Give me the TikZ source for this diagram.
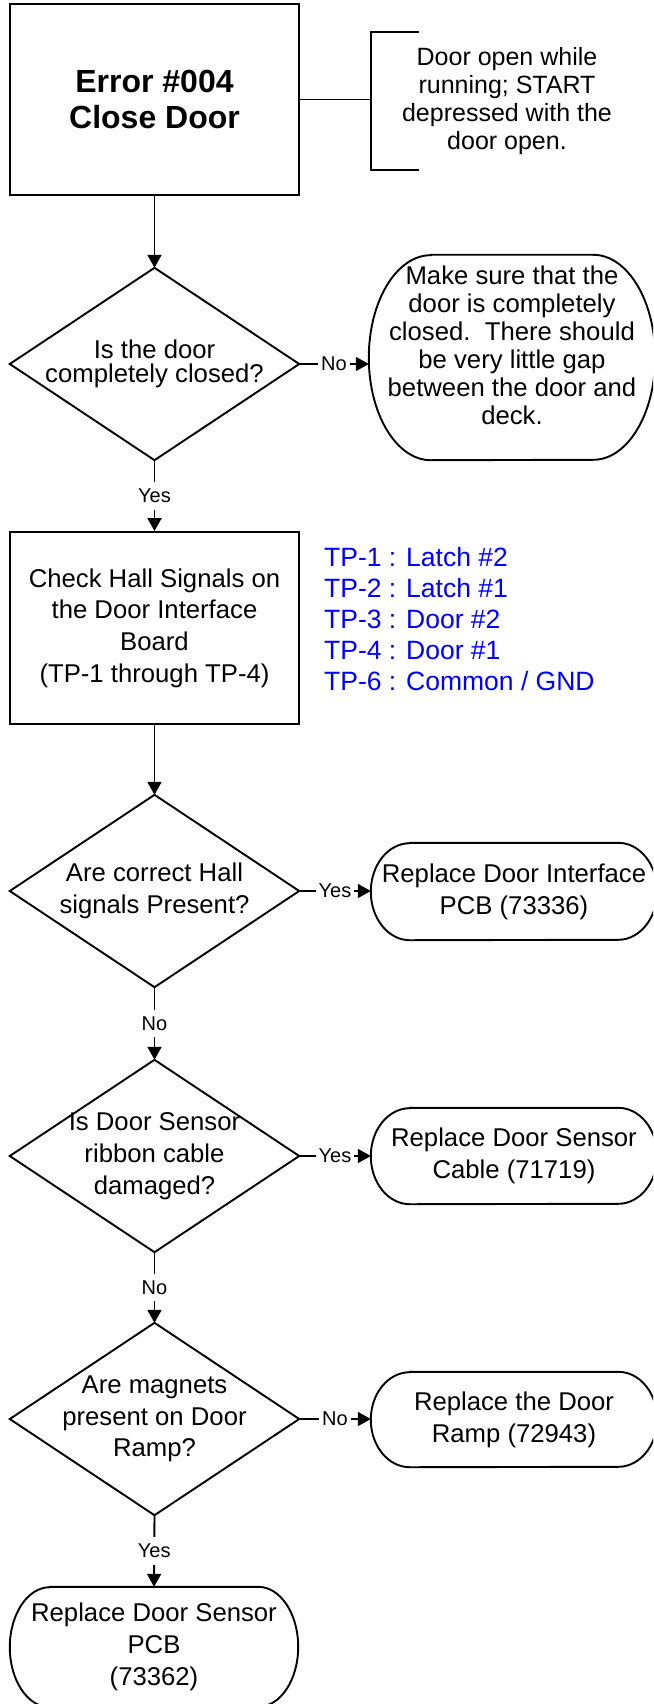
\documentclass[tikz,border=0pt]{standalone}
\usepackage{fontspec}
\setmainfont{Liberation Sans}
\usetikzlibrary{arrows.meta,calc}
\definecolor{tpblue}{RGB}{0,0,255}
\newcommand\fmain{\fontsize{25.7pt}{31.7pt}\selectfont}
\newcommand\ftitle{\fontsize{32pt}{36pt}\selectfont\bfseries}
\newcommand\fnote{\fontsize{25pt}{27.7pt}\selectfont}
\newcommand\fdone{\fontsize{25.7pt}{23.5pt}\selectfont}
\newcommand\fmake{\fontsize{25.7pt}{28pt}\selectfont}
\newcommand\ftp{\fontsize{26.5pt}{30.8pt}\selectfont}
\newcommand\flabel{\fontsize{20pt}{24pt}\selectfont}
\newcommand\termoutline[3]{%
  \draw[shapeline] ($(#1.north west)+(#2,0)$) -- ($(#1.north east)+(-#2,0)$)
    arc[start angle=90,end angle=-90,x radius=#2,y radius=#3]
    -- ($(#1.south west)+(#2,0)$)
    arc[start angle=270,end angle=90,x radius=#2,y radius=#3] -- cycle;}
\newcommand\diamondoutline[1]{%
  \draw[shapeline] (#1.north) -- (#1.east) -- (#1.south) -- (#1.west) -- cycle;}
\begin{document}
\begin{tikzpicture}[x=1pt,y=1pt,
  shapeline/.style={line width=1.9pt, line join=miter},
  conn/.style={line width=1.9pt},
  arr/.style={conn,-{Triangle[length=13pt,width=14pt]}},
  boxnode/.style={draw, line width=1.9pt, inner sep=0pt, align=center, font=\fmain},
  holder/.style={inner sep=0pt, align=center, font=\fmain},
  lbl/.style={fill=white, inner xsep=3pt, inner ysep=7pt, font=\flabel}]
\useasboundingbox (0,0) rectangle (653,-1704);
\fill[white] (0,0) rectangle (653,-1704);
\clip (0,0) rectangle (653,-1704);

% start box and note
\node[boxnode, minimum width=289pt, minimum height=191pt, font=\ftitle] (start) at (154.5,-99.5) {Error \#004\\Close Door};
\node[holder, minimum width=272pt, minimum height=138pt, font=\fnote] (note) at (507,-101) {Door open while\\running; START\\depressed with the\\door open.};
\draw[conn] ([xshift=48pt]note.north west) -- (note.north west) -- (note.south west) -- ([xshift=48pt]note.south west);
\draw[conn] (start.east) -- (start.east -| note.west);

% question 1
\node[holder, minimum width=289pt, minimum height=192pt, font=\fdone] (q1) at (154.5,-364) {Is the door\\completely closed?};
\diamondoutline{q1}
\node[holder, minimum width=286pt, minimum height=205pt] (fix1) at (512,-357.5) {};
\termoutline{fix1}{62}{102.5}
\node[holder, font=\fmake] (fix1text) at ([yshift=11.7pt]fix1.center) {Make sure that the\\door is completely\\closed.\ \ There should\\be very little gap\\between the door and\\deck.};

% check box
\node[boxnode, minimum width=289pt, minimum height=192pt] (check) at (154.5,-628) {Check Hall Signals on\\the Door Interface\\Board\\(TP-1 through TP-4)};
\node[anchor=north west, inner sep=0pt, align=left, text=tpblue, font=\ftp] (tp) at (324,-547.5) {TP-1 : Latch \#2\\TP-2 : Latch \#1\\TP-3 : Door \#2\\TP-4 : Door \#1\\TP-6 : Common / GND};

% question 2
\node[holder, minimum width=289pt, minimum height=192pt] (q2) at (154.5,-891) {Are correct Hall\\signals Present?};
\diamondoutline{q2}
\node[holder, minimum width=286pt, minimum height=97pt] (fix2) at (514,-891.5) {Replace Door Interface\\PCB (73336)};
\termoutline{fix2}{39}{48.5}

% question 3
\node[holder, minimum width=289pt, minimum height=192pt] (q3) at (154.5,-1156) {Is Door Sensor\\ribbon cable\\damaged?};
\diamondoutline{q3}
\node[holder, minimum width=286pt, minimum height=96pt] (fix3) at (514,-1156) {Replace Door Sensor\\Cable (71719)};
\termoutline{fix3}{39}{48}

% question 4
\node[holder, minimum width=289pt, minimum height=192pt] (q4) at (154.5,-1419) {Are magnets\\present on Door\\Ramp?};
\diamondoutline{q4}
\node[holder, minimum width=286pt, minimum height=95pt] (fix4) at (514,-1419.5) {Replace the Door\\Ramp (72943)};
\termoutline{fix4}{39}{47.5}

% final
\node[holder, minimum width=288pt, minimum height=120pt] (fix5) at (154,-1647) {Replace Door Sensor\\PCB\\(73362)};
\termoutline{fix5}{40}{60}

% connectors
\draw[arr] (start.south) -- (q1.north);
\draw[arr] (q1.east) -- node[lbl]{No} (q1.east -| fix1.west);
\draw[arr] (q1.south) -- node[lbl]{Yes} (check.north);
\draw[arr] (check.south) -- (q2.north);
\draw[arr] (q2.east) -- node[lbl]{Yes} (q2.east -| fix2.west);
\draw[arr] (q2.south) -- node[lbl]{No} (q3.north);
\draw[arr] (q3.east) -- node[lbl]{Yes} (q3.east -| fix3.west);
\draw[arr] (q3.south) -- node[lbl]{No} (q4.north);
\draw[arr] (q4.east) -- node[lbl]{No} (q4.east -| fix4.west);
\draw[arr] (q4.south) -- node[lbl]{Yes} (fix5.north);
\end{tikzpicture}
\end{document}
